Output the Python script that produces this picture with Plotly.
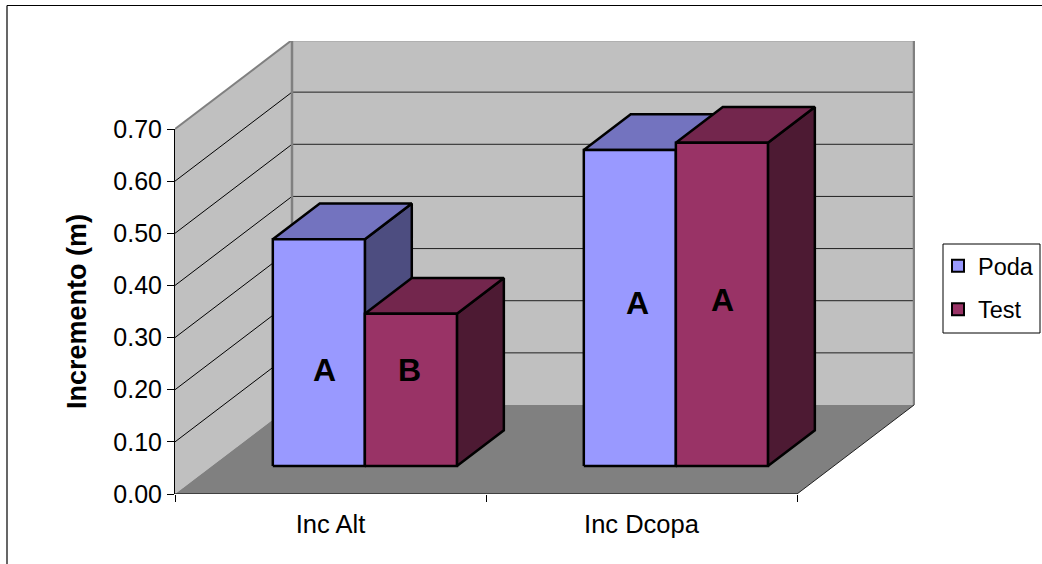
import plotly.graph_objects as go

categories = ["Inc Alt", "Inc Dcopa"]
series_names = ["Poda", "Test"]
poda_values = [0.435, 0.606]
test_values = [0.292, 0.62]
letters_poda = ["A", "A"]
letters_test = ["B", "A"]
y_ticks = [0.0, 0.1, 0.2, 0.3, 0.4, 0.5, 0.6, 0.7]

# Chart geometry (plot units)
W, H = 1042, 564
L, R, T, B = 175, 915, 41, 494
PX_PER_CAT = 311.0
PX_PER_VAL = 365.0 / 0.7
DX = 117 / PX_PER_CAT      # wall depth in category units
DY = 89 / PX_PER_VAL       # wall depth in value units
BAR_FRONT, BAR_BACK = 0.315, 0.716
GAP, BAR_W = 0.196, 0.296
YMIN, YMAX = 0.0, (B - T) / PX_PER_VAL
XMAX = (R - L) / PX_PER_CAT
AX_MAX = 0.7

def proj(x, v, d):
    return x + d * DX, v + d * DY

def poly(points, fill, line_color, lw):
    xs, ys = zip(*(points + [points[0]]))
    return go.Scatter(x=xs, y=ys, mode="lines", fill="toself", fillcolor=fill,
                      line=dict(color=line_color, width=lw), showlegend=False,
                      hoverinfo="skip", cliponaxis=False)

def seg(p, q, color, lw):
    return go.Scatter(x=[p[0], q[0]], y=[p[1], q[1]], mode="lines", cliponaxis=False,
                      line=dict(color=color, width=lw), showlegend=False, hoverinfo="skip")

ncat = len(categories)
fig = go.Figure()

# walls and floor
GRAY_EDGE = "#808080"
fig.add_trace(poly([proj(0, 0, 0), proj(0, 0, 1), proj(0, AX_MAX, 1), proj(0, AX_MAX, 0)], "#C0C0C0", "rgba(0,0,0,0)", 0))
fig.add_trace(poly([proj(0, 0, 1), proj(ncat, 0, 1), proj(ncat, AX_MAX, 1), proj(0, AX_MAX, 1)], "#C0C0C0", "rgba(0,0,0,0)", 0))
fig.add_trace(poly([proj(0, 0, 0), proj(ncat, 0, 0), proj(ncat, 0, 1), proj(0, 0, 1)], "#808080", "rgba(0,0,0,0)", 0))
for t in y_ticks[1:-1]:
    fig.add_trace(seg(proj(0, t, 0), proj(0, t, 1), "#000000", 1))
    fig.add_trace(seg(proj(0, t, 1), proj(ncat, t, 1), "#202020", 1))
fig.add_trace(seg(proj(0, AX_MAX, 0), proj(0, AX_MAX, 1), GRAY_EDGE, 2))
fig.add_trace(seg(proj(0, AX_MAX, 1), proj(ncat, AX_MAX, 1), GRAY_EDGE, 2.5))
fig.add_trace(seg(proj(0, 0, 1), proj(0, AX_MAX, 1), GRAY_EDGE, 2.5))
fig.add_trace(seg(proj(ncat, 0, 1), proj(ncat, AX_MAX, 1), GRAY_EDGE, 2.5))
fig.add_trace(seg(proj(0, 0, 0), proj(ncat, 0, 0), "#000000", 1))
fig.add_trace(seg(proj(ncat, 0, 0), proj(ncat, 0, 1), "#202020", 1))

STYLES = {
    "Poda": ("#9999FF", "#7373BF", "#4D4D80"),
    "Test": ("#993366", "#73264D", "#4D1A33"),
}

def add_bar(x0, value, name):
    front, top, side = STYLES[name]
    x1 = x0 + BAR_W
    f, b = BAR_FRONT, BAR_BACK
    fig.add_trace(poly([proj(x1, 0, f), proj(x1, 0, b), proj(x1, value, b), proj(x1, value, f)], side, "#000000", 2.5))
    fig.add_trace(poly([proj(x0, value, f), proj(x1, value, f), proj(x1, value, b), proj(x0, value, b)], top, "#000000", 2.5))
    fig.add_trace(poly([proj(x0, 0, f), proj(x1, 0, f), proj(x1, value, f), proj(x0, value, f)], front, "#000000", 2.5))

for i in range(ncat):
    add_bar(i + GAP, poda_values[i], "Poda")
    add_bar(i + GAP + BAR_W, test_values[i], "Test")

# legend entries
for name, (front, _, _) in STYLES.items():
    fig.add_trace(go.Scatter(x=[None], y=[None], mode="markers", name=name, legendgroup=name,
                             marker=dict(symbol="square", size=13, color=front,
                                         line=dict(color="#000000", width=2))))

# helper traces for the visible axes
fig.add_trace(go.Scatter(x=[0, ncat], y=[0, AX_MAX], xaxis="x2", yaxis="y2", mode="markers",
                         showlegend=False, hoverinfo="skip", marker=dict(opacity=0)))

FONT = "Liberation Sans, Arial, sans-serif"
annotations = []
ann_pos = [(0.481, 0.238, letters_poda[0]), (0.7535, 0.238, letters_test[0]),
           (1.488, 0.367, letters_poda[1]), (1.760, 0.373, letters_test[1])]
for x, y, s in ann_pos:
    annotations.append(dict(x=x, y=y, text=s, showarrow=False, xref="x", yref="y",
                            font=dict(family=FONT, size=32, color="#000000", weight="bold")))

def px(v):
    return (v - L) / (R - L)

def py(v):
    return (B - v) / (B - T)

fig.update_layout(
    width=W, height=H, autosize=False,
    margin=dict(l=L, r=W - R, t=T, b=H - B, pad=0, autoexpand=False),
    paper_bgcolor="#FFFFFF", plot_bgcolor="rgba(0,0,0,0)",
    font=dict(family=FONT, size=25, color="#000000"),
    xaxis=dict(range=[0, XMAX], tickmode="array",
               tickvals=[i + 0.5 for i in range(ncat)], ticktext=categories,
               ticks="", showgrid=False, zeroline=False, showline=False,
               tickfont=dict(size=25.5), ticklabelstandoff=12, automargin=False),
    xaxis2=dict(range=[0, XMAX], overlaying="x", side="bottom", anchor="y2",
                tickmode="array", tickvals=list(range(ncat + 1)), ticktext=["" for _ in range(ncat + 1)],
                ticks="outside", ticklen=7, tickwidth=1, tickcolor="#000000",
                showgrid=False, zeroline=False, showline=False),
    yaxis=dict(range=[YMIN, YMAX], visible=False),
    yaxis2=dict(range=[0, AX_MAX], domain=[0, (B - 129) / (B - T)], anchor="x2", side="left",
                tickmode="array", tickvals=y_ticks,
                ticktext=[f"{t:.2f}" for t in y_ticks], ticks="outside", ticklen=7,
                tickwidth=1, tickcolor="#000000", showgrid=False, zeroline=False,
                showline=True, linecolor="#000000", linewidth=1,
                tickfont=dict(size=25), automargin=False,
                title=dict(text="Incremento (m)", standoff=18,
                           font=dict(family=FONT, size=27, color="#000000", weight="bold"))),
    legend=dict(x=px(938), y=py(244), xanchor="left", yanchor="top",
                bgcolor="rgba(0,0,0,0)", borderwidth=0,
                font=dict(size=23.5), tracegroupgap=10, traceorder="grouped",
                itemsizing="constant", itemwidth=30, entrywidth=62, entrywidthmode="pixels"),
    annotations=annotations,
    shapes=[
        dict(type="line", xref="paper", yref="paper", x0=px(7), x1=px(7),
             y0=py(5.5), y1=py(570), line=dict(color="#000000", width=1.2)),
        dict(type="line", xref="paper", yref="paper", x0=px(7), x1=px(1050),
             y0=py(5.5), y1=py(5.5), line=dict(color="#000000", width=1.2)),
        dict(type="rect", xref="paper", yref="paper", x0=px(943), x1=px(1040),
             y0=py(244), y1=py(333), fillcolor="#FFFFFF", line=dict(color="#000000", width=1)),
    ],
)

fig.write_html("out.html", post_script="document.body.style.margin='0';", config={"displayModeBar": False})
